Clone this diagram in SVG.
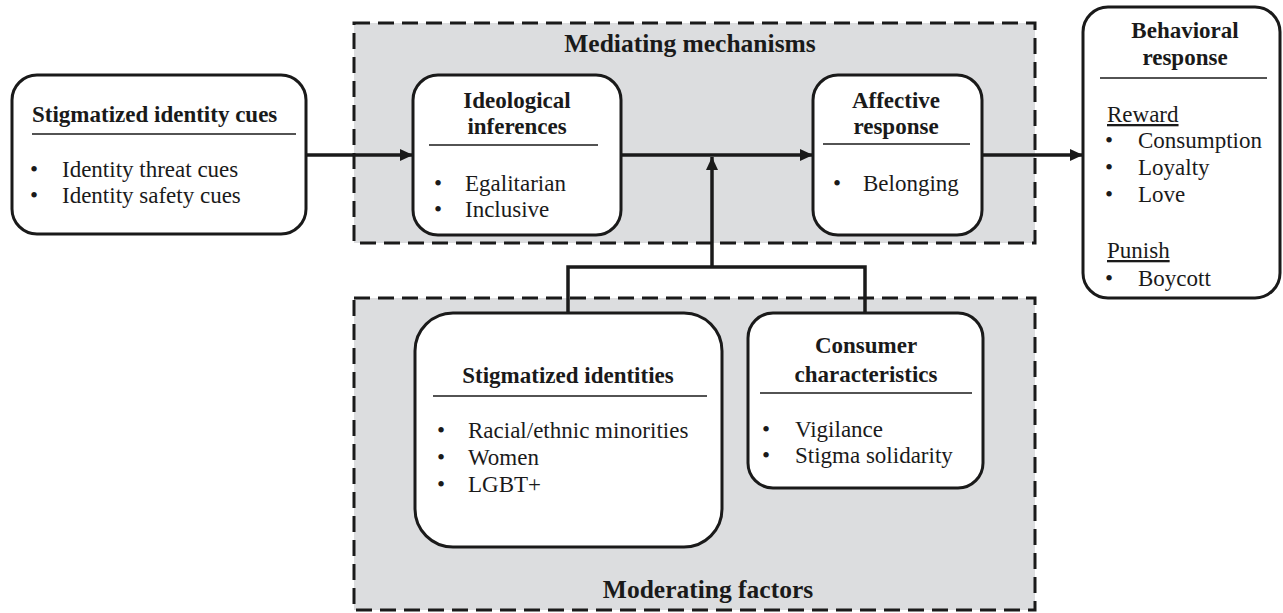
<svg xmlns="http://www.w3.org/2000/svg" width="1283" height="613" viewBox="0 0 1283 613">
<defs>
<marker id="ah" viewBox="0 0 13 12" refX="13" refY="6" markerWidth="13" markerHeight="12" markerUnits="userSpaceOnUse" orient="auto">
<path d="M0,0 L13,6 L0,12 Z" fill="#1a1a1a"/>
</marker>
<style>
.grp{fill:#dcdddf;stroke:#1a1a1a;stroke-width:3;stroke-dasharray:16 8}
.box{fill:#ffffff;stroke:#1a1a1a;stroke-width:3}
.t{font-family:"Liberation Serif","Times New Roman",serif;font-size:23px;fill:#1a1a1a}
.g{font-size:25.5px}
.b{font-weight:bold}
.c{text-anchor:middle}
.ul{stroke:#1a1a1a;stroke-width:1.5}
.con{fill:none;stroke:#1a1a1a;stroke-width:3.5}
</style>
</defs>
<rect width="1283" height="613" fill="#ffffff"/>

<g id="mediating">
<rect class="grp" x="354" y="23" width="681" height="220"/>
<text class="t g b c" x="690" y="52">Mediating mechanisms</text>
</g>
<g id="moderating">
<rect class="grp" x="354" y="298" width="681" height="312"/>
<text class="t g b c" x="708" y="598">Moderating factors</text>
</g>

<g id="connectors">
<line class="con" x1="306" y1="155" x2="413" y2="155" marker-end="url(#ah)"/>
<line class="con" x1="621" y1="155" x2="813" y2="155" marker-end="url(#ah)"/>
<line class="con" x1="982" y1="155" x2="1083" y2="155" marker-end="url(#ah)"/>
<polyline class="con" points="568,313 568,267 865,267 865,313"/>
<line class="con" x1="712" y1="267" x2="712" y2="157" marker-end="url(#ah)"/>
</g>

<g id="cues">
<rect class="box" x="12" y="75" width="294" height="159" rx="25"/>
<text class="t b" x="32" y="122">Stigmatized identity cues</text>
<line class="ul" x1="32" y1="134" x2="296" y2="134"/>
<text class="t" x="30" y="177">•</text>
<text class="t" x="62" y="177">Identity threat cues</text>
<text class="t" x="30" y="203">•</text>
<text class="t" x="62" y="203">Identity safety cues</text>
</g>

<g id="ideological">
<rect class="box" x="413" y="75" width="208" height="160" rx="25"/>
<text class="t b c" x="517" y="108">Ideological</text>
<text class="t b c" x="517" y="134">inferences</text>
<line class="ul" x1="429" y1="145" x2="598" y2="145"/>
<text class="t" x="434" y="191">•</text>
<text class="t" x="465" y="191">Egalitarian</text>
<text class="t" x="434" y="217">•</text>
<text class="t" x="465" y="217">Inclusive</text>
</g>

<g id="affective">
<rect class="box" x="813" y="75" width="169" height="160" rx="25"/>
<text class="t b c" x="896" y="108">Affective</text>
<text class="t b c" x="896" y="134">response</text>
<line class="ul" x1="823" y1="144" x2="970" y2="144"/>
<text class="t" x="833" y="191">•</text>
<text class="t" x="863" y="191">Belonging</text>
</g>

<g id="behavioral">
<rect class="box" x="1083" y="7" width="197" height="291" rx="25"/>
<text class="t b c" x="1185" y="38">Behavioral</text>
<text class="t b c" x="1185" y="65">response</text>
<line class="ul" x1="1100" y1="78" x2="1267" y2="78"/>
<text class="t" x="1107" y="122" text-decoration="underline">Reward</text>
<text class="t" x="1105" y="148">•</text>
<text class="t" x="1138" y="148">Consumption</text>
<text class="t" x="1105" y="175">•</text>
<text class="t" x="1138" y="175">Loyalty</text>
<text class="t" x="1105" y="202">•</text>
<text class="t" x="1138" y="202">Love</text>
<text class="t" x="1107" y="258" text-decoration="underline">Punish</text>
<text class="t" x="1105" y="286">•</text>
<text class="t" x="1138" y="286">Boycott</text>
</g>

<g id="identities">
<rect class="box" x="415" y="313" width="307" height="234" rx="38"/>
<text class="t b c" x="568" y="383">Stigmatized identities</text>
<line class="ul" x1="433" y1="396" x2="707" y2="396"/>
<text class="t" x="437" y="438">•</text>
<text class="t" x="468" y="438">Racial/ethnic minorities</text>
<text class="t" x="437" y="465">•</text>
<text class="t" x="468" y="465">Women</text>
<text class="t" x="437" y="492">•</text>
<text class="t" x="468" y="492">LGBT+</text>
</g>

<g id="consumer">
<rect class="box" x="748" y="313" width="235" height="175" rx="25"/>
<text class="t b c" x="866" y="353">Consumer</text>
<text class="t b c" x="866" y="382">characteristics</text>
<line class="ul" x1="760" y1="393" x2="972" y2="393"/>
<text class="t" x="762" y="437">•</text>
<text class="t" x="795" y="437">Vigilance</text>
<text class="t" x="762" y="463">•</text>
<text class="t" x="795" y="463">Stigma solidarity</text>
</g>
</svg>
